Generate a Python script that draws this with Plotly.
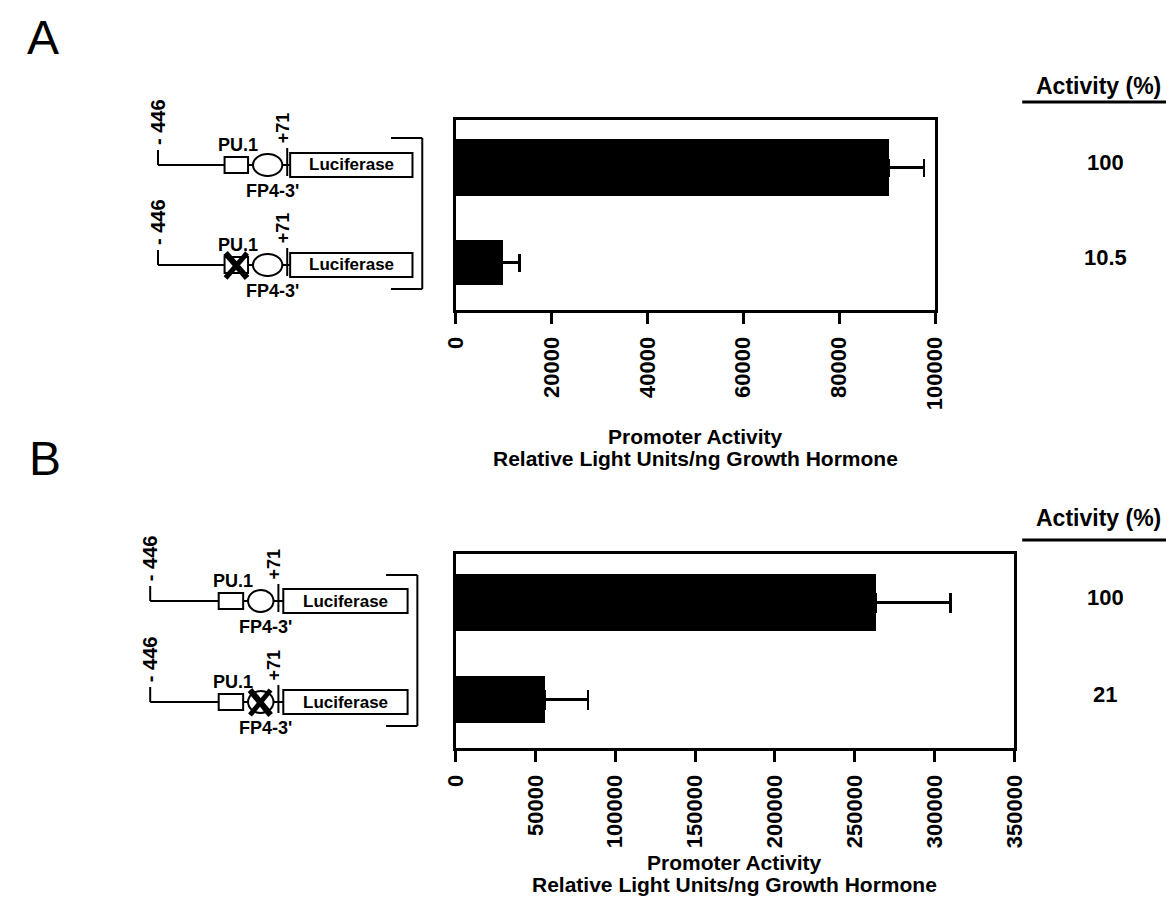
import plotly.graph_objects as go

# ---------------- data ----------------
constructs_a = ["wild type", "PU.1 mutant"]
values_a = [90300, 9700]
errors_a = [7400, 3600]
activity_a = ["100", "10.5"]
ticks_a = [0, 20000, 40000, 60000, 80000, 100000]
ticklabels_a = ["0", "20000", "40000", "60000", "80000", "100000"]

constructs_b = ["wild type", "FP4-3' mutant"]
values_b = [263000, 56000]
errors_b = [47000, 27000]
activity_b = ["100", "21"]
ticks_b = [0, 50000, 100000, 150000, 200000, 250000, 300000, 350000]
ticklabels_b = ["0", "50000", "100000", "150000", "200000", "250000", "300000", "350000"]

axis_title_1 = "Promoter Activity"
axis_title_2 = "Relative Light Units/ng Growth Hormone"

# ---------------- layout helpers ----------------
W, H = 1174, 897
FONT = "Liberation Sans, Arial, Helvetica, sans-serif"


def px(x):
    return x / W


def py(y):
    return 1 - y / H


fig = go.Figure()

ypos = [1, 0]  # top bar, bottom bar
bar_widths = [0.59, 0.48]

fig.add_trace(go.Bar(
    orientation="h", x=values_a, y=ypos, width=bar_widths,
    marker=dict(color="black", line=dict(width=0)),
    error_x=dict(type="data", array=errors_a, arrayminus=[0, 0], symmetric=False,
                 color="black", thickness=2.5, width=9),
    xaxis="x", yaxis="y", showlegend=False, hovertext=constructs_a,
))
fig.add_trace(go.Bar(
    orientation="h", x=values_b, y=ypos, width=bar_widths,
    marker=dict(color="black", line=dict(width=0)),
    error_x=dict(type="data", array=errors_b, arrayminus=[0, 0], symmetric=False,
                 color="black", thickness=2.5, width=10),
    xaxis="x2", yaxis="y2", showlegend=False, hovertext=constructs_b,
))

tickfont = dict(family=FONT, size=22, color="black", weight="bold")
common_x = dict(showline=True, linecolor="black", linewidth=3, mirror=True,
                ticks="outside", ticklen=11, tickwidth=3, tickcolor="black",
                tickangle=-90, tickfont=tickfont, showgrid=False, zeroline=False,
                tickmode="array", ticklabelstandoff=4)
common_y = dict(showline=True, linecolor="black", linewidth=3, mirror=True,
                showticklabels=False, ticks="", showgrid=False, zeroline=False,
                range=[-0.5, 1.5])

box_a = dict(x0=444, x1=934, y0=112, y1=302)
box_b = dict(x0=444, x1=1015, y0=546, y1=740)

fig.update_layout(
    width=W, height=H,
    margin=dict(l=0, r=0, t=0, b=0),
    paper_bgcolor="white", plot_bgcolor="white",
    bargap=0,
    xaxis=dict(domain=[px(box_a["x0"]), px(box_a["x1"])], range=[0, 100000],
               tickvals=ticks_a, ticktext=ticklabels_a, anchor="y", **common_x),
    yaxis=dict(domain=[py(box_a["y1"]), py(box_a["y0"])], anchor="x", **common_y),
    xaxis2=dict(domain=[px(box_b["x0"]), px(box_b["x1"])], range=[0, 350000],
                tickvals=ticks_b, ticktext=ticklabels_b, anchor="y2", **common_x),
    yaxis2=dict(domain=[py(box_b["y1"]), py(box_b["y0"])], anchor="x2", **common_y),
)

annotations = []
shapes = []


def text(x, y, s, size, bold=True, angle=0, xanchor="center"):
    annotations.append(dict(
        x=px(x), y=py(y), xref="paper", yref="paper", text=s, showarrow=False,
        xanchor=xanchor, yanchor="middle", textangle=angle,
        font=dict(family=FONT, size=size, color="black", weight="bold" if bold else "normal"),
    ))


def line(x0, y0, x1, y1, w=2):
    shapes.append(dict(type="line", xref="paper", yref="paper",
                       x0=px(x0), y0=py(y0), x1=px(x1), y1=py(y1),
                       line=dict(color="black", width=w)))


def rect(x0, y0, x1, y1, w=2):
    shapes.append(dict(type="rect", xref="paper", yref="paper",
                       x0=px(x0), y0=py(y1), x1=px(x1), y1=py(y0),
                       line=dict(color="black", width=w), fillcolor="white"))


def ellipse(x0, y0, x1, y1, w=2):
    shapes.append(dict(type="circle", xref="paper", yref="paper",
                       x0=px(x0), y0=py(y1), x1=px(x1), y1=py(y0),
                       line=dict(color="black", width=w), fillcolor="white"))


def construct(xs, base, mut=None):
    xl = xs["start"]
    line(xl, base - 15, xl, base)
    text(xl, base - 43, "- 446", 20, angle=-90)
    line(xl, base, xs["pu0"], base)
    rect(xs["pu0"], base - 8, xs["pu1"], base + 8)
    text((xs["pu0"] + xs["pu1"]) / 2 + 2, base - 20, "PU.1", 18)
    line(xs["pu1"], base, xs["el0"], base)
    ellipse(xs["el0"], base - 11, xs["el1"], base + 11)
    line(xs["el1"], base, xs["luc0"], base)
    line(xs["tick"], base - 17, xs["tick"], base + 11)
    text(xs["tick"] - 4, base - 37, "+71", 18, angle=-90)
    rect(xs["luc0"], base - 12, xs["luc1"], base + 12)
    text((xs["luc0"] + xs["luc1"]) / 2, base, "Luciferase", 17)
    text((xs["el0"] + xs["el1"]) / 2 + 5, base + 26, "FP4-3'", 18)
    if mut == "pu":
        cx0, cx1 = xs["pu0"], xs["pu1"]
    elif mut == "fp":
        cx0, cx1 = xs["el0"] + 1, xs["el1"] - 2
    else:
        return
    line(cx0 + 1, base - 12, cx1 - 1, base + 13, w=6)
    line(cx1 - 1, base - 12, cx0 + 1, base + 13, w=5)


xs_a = dict(start=140, pu0=208, pu1=232, el0=237, el1=267, tick=272, luc0=275, luc1=400)
construct(xs_a, 157)
construct(xs_a, 257, mut="pu")
# bracket A
line(378, 130, 410, 130)
line(410, 130, 410, 281)
line(378, 281, 410, 281)

xs_b = dict(start=132, pu0=202, pu1=227, el0=232, el1=258, tick=263, luc0=268, luc1=395)
construct(xs_b, 593)
construct(xs_b, 694, mut="fp")
# bracket B
line(373, 567, 405, 567)
line(405, 567, 405, 718)
line(373, 718, 405, 718)

# panel letters
text(22, 30, "A", 48, bold=False)
text(25, 450, "B", 48, bold=False)

# Activity headers
for yh, yl in [(78, 94), (510, 532)]:
    text(1101, yh, "Activity (%)", 23)
    line(1023, yl, 1174, yl, w=3)

# Activity values, aligned to bars via the axes
for vals, yref in [(activity_a, "y"), (activity_b, "y2")]:
    for v, yp in zip(vals, ypos):
        annotations.append(dict(
            x=px(1108), y=yp, xref="paper", yref=yref, text=v, showarrow=False,
            xanchor="center", yanchor="middle", yshift=5,
            font=dict(family=FONT, size=22, color="black", weight="bold"),
        ))

# axis titles
for cx, y1 in [((box_a["x0"] + box_a["x1"]) / 2, 428), ((box_b["x0"] + box_b["x1"]) / 2, 854)]:
    text(cx, y1, axis_title_1, 21)
    text(cx, y1 + 22, axis_title_2, 21)

fig.update_layout(annotations=annotations, shapes=shapes)
fig.write_html("out.html")
